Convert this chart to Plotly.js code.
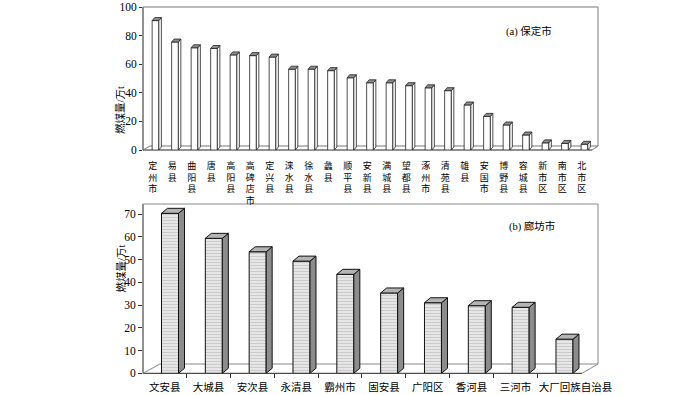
<!DOCTYPE html>
<html>
<head>
<meta charset="utf-8">
<script src="https://cdn.plot.ly/plotly-3.0.1.min.js"></script>
<style>html,body{margin:0;padding:0;background:#fff;}#chart{width:700px;height:395px;}</style>
</head>
<body>
<div id="chart"></div>
<script>
// ---------- data ----------
const baodingNames = ["定州市","易县","曲阳县","唐县","高阳县","高碑店市","定兴县","涞水县","徐水县","蠡县","顺平县","安新县","满城县","望都县","涿州市","清苑县","雄县","安国市","博野县","容城县","新市区","南市区","北市区"];
const baodingValues = [90.5,75.5,71.5,71,66.5,66,65,56.5,56.5,55.5,50.5,47,47,45,43.5,41.5,31.5,23.5,17.5,10.5,5,4.6,4];
const langfangNames = ["文安县","大城县","安次县","永清县","霸州市","固安县","广阳区","香河县","三河市","大厂回族自治县"];
const langfangValues = [70.3,59.3,53.4,49.3,43.5,35.3,31,29.7,29,15];
const topTicks = [0,20,40,60,80,100];
const bottomTicks = [0,10,20,30,40,50,60,70];
const yTitle = "燃煤量/万t";
const titleA = "(a) 保定市";
const titleB = "(b) 廊坊市";

// ---------- geometry helpers ----------
const W = 700, H = 395;
const px = x => x / W;
const py = y => 1 - y / H;
const FONT = "Liberation Serif, Noto Sans CJK SC, serif";

// panel pixel geometry
const A = {left:143, right:592, top:7, bottom:150, c0:155.5, step:19.5, ppu:1.43, back:598, floorY:146, floorX:150};
const B = {left:143, right:582, top:204, bottom:373.3, c0:170, step:43.83, ppu:2.2757, back:598, floorY:364, floorX:160};

function xr(P){ return [(P.left-P.c0)/P.step, (P.right-P.c0)/P.step]; }

// 3D faces built from data
function faces(vals, w, dx, dy){
  const sx=[], sy=[], tx=[], ty=[];
  vals.forEach((v,i)=>{
    const l=i-w/2, r=i+w/2;
    sx.push(r, r+dx, r+dx, r, r, null); sy.push(0, dy, v+dy, v, 0, null);
    tx.push(l, l+dx, r+dx, r, l, null); ty.push(v, v+dy, v+dy, v, v, null);
  });
  return {sx,sy,tx,ty};
}

const idxA = baodingValues.map((_,i)=>i);
const idxB = langfangValues.map((_,i)=>i);

const wA = 6.7/A.step, dxA = 2.5/A.step, dyA = 3/A.ppu;
const wB = 17/B.step, dxB = 6/B.step, dyB = 5/B.ppu;
const fA = faces(baodingValues, wA, dxA, dyA);
const fB = faces(langfangValues, wB, dxB, dyB);

const traces = [
  {type:'scatter', x:fA.sx, y:fA.sy, xaxis:'x', yaxis:'y', mode:'lines', fill:'toself', fillcolor:'#ffffff', line:{color:'#222', width:0.8}, hoverinfo:'skip'},
  {type:'scatter', x:fA.tx, y:fA.ty, xaxis:'x', yaxis:'y', mode:'lines', fill:'toself', fillcolor:'#8e8e8e', line:{color:'#222', width:0.8}, hoverinfo:'skip'},
  {type:'bar', x:idxA, y:baodingValues, width:wA, xaxis:'x', yaxis:'y', marker:{color:'#ffffff', line:{color:'#222', width:0.8}}},
  {type:'scatter', x:fB.sx, y:fB.sy, xaxis:'x2', yaxis:'y2', mode:'lines', fill:'toself', fillcolor:'#8c8c8c', line:{color:'#111', width:1}, hoverinfo:'skip'},
  {type:'scatter', x:fB.tx, y:fB.ty, xaxis:'x2', yaxis:'y2', mode:'lines', fill:'toself', fillcolor:'#b4b4b4', line:{color:'#111', width:1}, hoverinfo:'skip'},
  {type:'bar', x:idxB, y:langfangValues, width:wB, xaxis:'x2', yaxis:'y2',
   marker:{color:'#e2e2e2', pattern:{shape:'-', fgcolor:'#c8c8c8', bgcolor:'#e6e6e6', size:3, solidity:0.3}, line:{color:'#111', width:1}}},
  {type:'scatter', x:[0], y:[0], xaxis:'x3', yaxis:'y2', mode:'markers', marker:{opacity:0}, hoverinfo:'skip'}
];

// frame lines (decoration)
function frame(P, frontColor, wallColor){
  const L = (x0,y0,x1,y1,c,wd)=>({type:'line', xref:'paper', yref:'paper', x0:px(x0), y0:py(y0), x1:px(x1), y1:py(y1), line:{color:c, width:wd}, layer:'below'});
  return [
    L(P.left,P.top,P.left,P.bottom,frontColor,1),
    L(P.left,P.top,P.back,P.top,wallColor,1),
    L(P.back,P.top,P.back,P.floorY,wallColor,1),
    L(P.floorX,P.floorY,P.back,P.floorY,wallColor,1),
    L(P.left,P.bottom,P.right,P.bottom,frontColor,1),
    L(P.left,P.bottom,P.floorX,P.floorY,wallColor,1),
    L(P.right,P.bottom,P.back,P.floorY,wallColor,1)
  ];
}

const vLabels = baodingNames.map(n => n.split('').join('<br>'));
// label anchor positions: slightly left of each bar; the long last label is pushed right as in the source
const lfTickPos = idxB.map(i => i === idxB.length-1 ? i + 0.25 : i - 0.12);

const layout = {
  width:W, height:H, margin:{l:0,r:0,t:0,b:0},
  paper_bgcolor:'#fff', plot_bgcolor:'rgba(0,0,0,0)',
  showlegend:false, bargap:0,
  font:{family:FONT, color:'#000', size:11},
  xaxis:{domain:[px(A.left),px(A.right)], range:xr(A), anchor:'y',
    tickmode:'array', tickvals:idxA.map(i=>i-0.14), ticktext:vLabels, tickangle:0, ticklabelstandoff:9,
    ticks:'', showgrid:false, zeroline:false, showline:false, tickfont:{size:9, family:FONT, color:'#000'}},
  yaxis:{domain:[py(A.bottom),py(A.top)], range:[0,100], anchor:'x',
    tickmode:'array', tickvals:topTicks, ticks:'outside', ticklen:3, tickcolor:'#333',
    showgrid:false, zeroline:false, showline:false, tickfont:{size:11.5, family:FONT, color:'#000'}},
  xaxis2:{domain:[px(B.left),px(B.right)], range:xr(B), anchor:'y2',
    tickmode:'array', tickvals:lfTickPos, ticktext:langfangNames, tickangle:0, ticklabelstandoff:6,
    ticks:'', showgrid:false, zeroline:false, showline:false, tickfont:{size:10.5, family:FONT, color:'#000'}},
  xaxis3:{overlaying:'x2', anchor:'y2', range:xr(B), tickmode:'array', tickvals:idxB.slice(0,-1).map(i=>i+0.38),
    ticks:'outside', ticklen:4, tickcolor:'#333', showticklabels:false, showgrid:false, zeroline:false, showline:false},
  yaxis2:{domain:[py(B.bottom),py(B.top)], range:[0,(B.bottom-B.top)/B.ppu], anchor:'x2',
    tickmode:'array', tickvals:bottomTicks, ticks:'outside', ticklen:4, tickcolor:'#333',
    showgrid:false, zeroline:false, showline:false, tickfont:{size:11.5, family:FONT, color:'#000'}},
  shapes:[...frame(A,'#222','#777'), ...frame(B,'#222','#888')],
  annotations:[
    {text:yTitle, xref:'paper', yref:'paper', x:px(112), y:py(84), textangle:-90, showarrow:false, font:{size:10.5, family:FONT}},
    {text:yTitle, xref:'paper', yref:'paper', x:px(112), y:py(294.5), textangle:-90, showarrow:false, font:{size:10.5, family:FONT}},
    {text:titleA, xref:'paper', yref:'paper', x:px(553.5), y:py(23), showarrow:false, font:{size:10.5, family:FONT}},
    {text:titleB, xref:'paper', yref:'paper', x:px(557), y:py(226), showarrow:false, font:{size:10.5, family:FONT}}
  ]
};

Plotly.newPlot('chart', traces, layout, {staticPlot:true, displayModeBar:false});
</script>
</body>
</html>
